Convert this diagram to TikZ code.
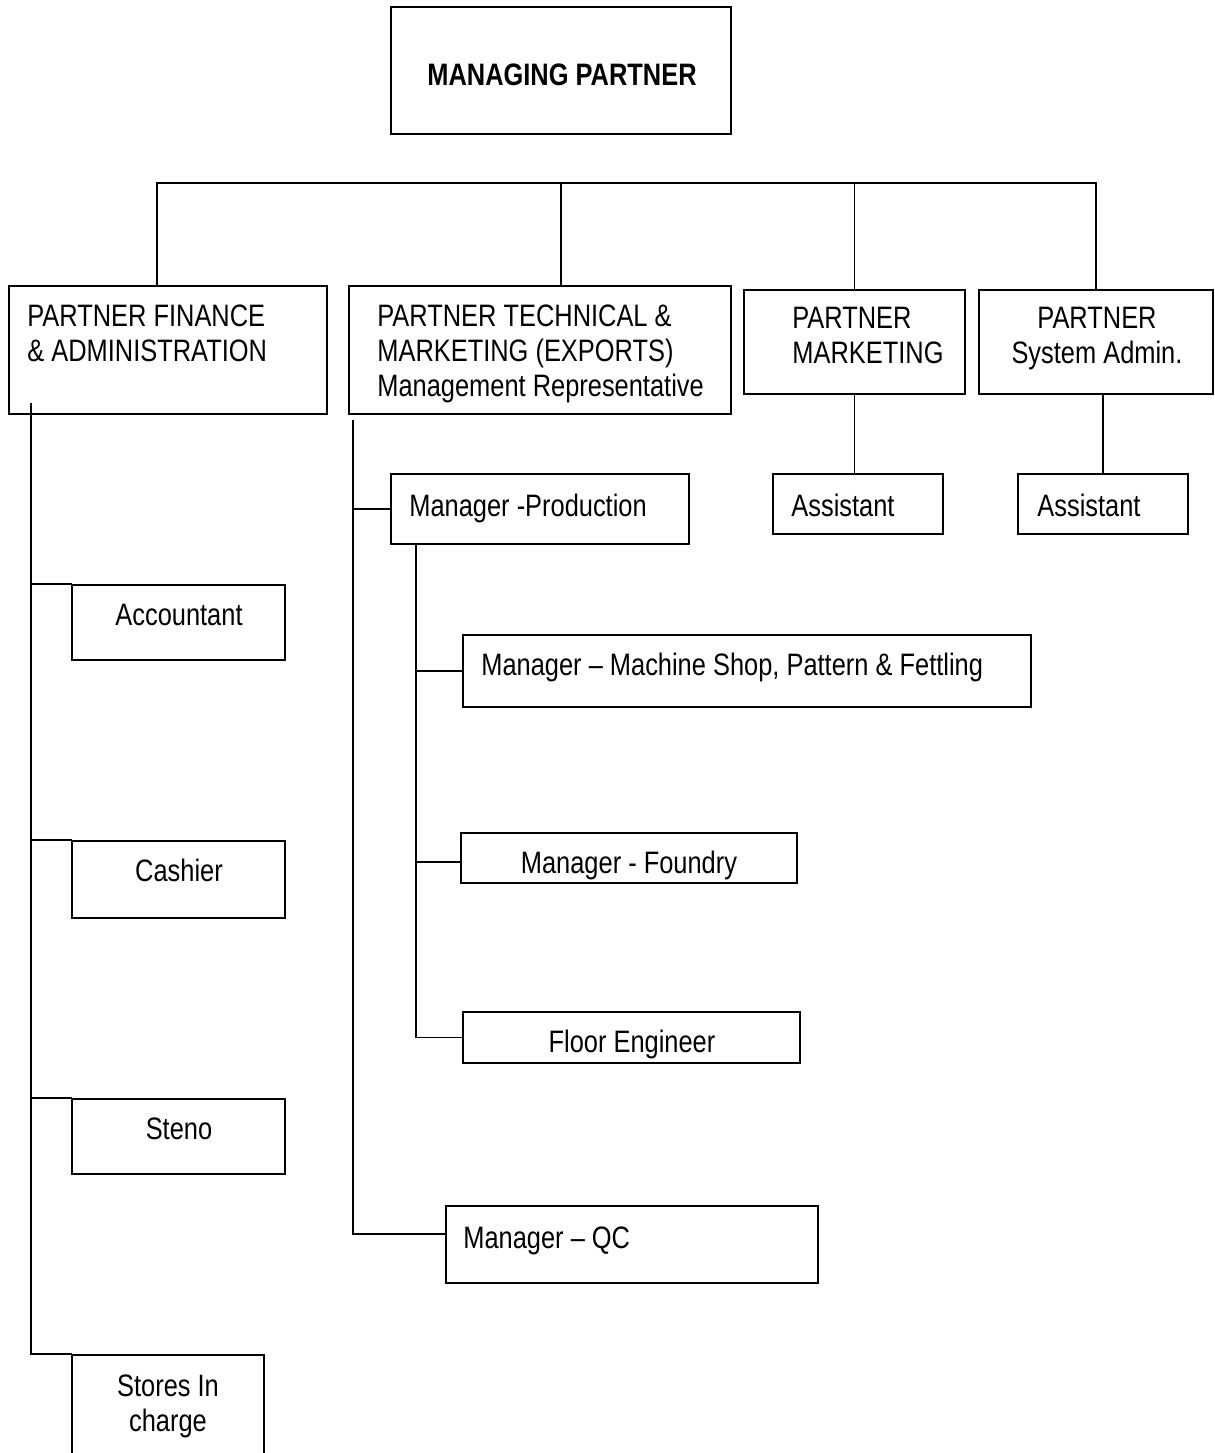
\documentclass[tikz,border=0pt]{standalone}
\usepackage{fontspec}
\setmainfont{Liberation Sans}[FakeStretch=0.82]
\usepackage{tikz}
\usetikzlibrary{fit}
\newcommand{\chartsize}{\fontsize{15.5pt}{17.5pt}\selectfont}

\begin{document}
\begin{tikzpicture}[line cap=rect,line join=miter, x=0.5pt,y=-0.5pt,
	box/.style={draw, inner sep=0pt, line width=0.9pt},
	txt/.style={inner sep=0pt, font=\chartsize},
	title/.style={inner sep=0pt, font=\chartsize\bfseries},
	conn/.style={line width=0.9pt}]
						\useasboundingbox (0,0) rectangle (1215,1453);
						\clip (0,0) rectangle (1215,1453);
						% boxes
						\node[box, fit={(391,7) (731,134)}] (mp) {};
						\node[box, fit={(9,286) (327,414)}] (fin) {};
						\node[box, fit={(349,286) (731,414)}] (tech) {};
						\node[box, fit={(744,290) (965,394)}] (mkt) {};
						\node[box, fit={(979,290) (1213,394)}] (sys) {};
						\node[box, fit={(773,474) (943,534)}] (ast1) {};
						\node[box, fit={(1018,474) (1188,534)}] (ast2) {};
						\node[box, fit={(391,474) (689,544)}] (prod) {};
						\node[box, fit={(463,635) (1031,707)}] (mach) {};
						\node[box, fit={(461,833) (797,883)}] (found) {};
						\node[box, fit={(463,1012) (800,1063)}] (floor) {};
						\node[box, fit={(446,1206) (818,1283)}] (qc) {};
						\node[box, fit={(72,585) (285,660)}] (acc) {};
						\node[box, fit={(72,841) (285,918)}] (cash) {};
						\node[box, fit={(72,1099) (285,1174)}] (steno) {};
						\node[box, fit={(72,1355) (264,1480)}] (stores) {};
						% texts
						\node[title, anchor=base] (mp-t) at (562,85) {MANAGING PARTNER};
						\node[txt, anchor=north west, align=left] (fin-t) at (27,304.5) {PARTNER FINANCE\\\& ADMINISTRATION};
						\node[txt, anchor=north west, align=left] (tech-t) at (377,304.5) {PARTNER TECHNICAL \&\\MARKETING (EXPORTS)\\Management Representative};
						\node[txt, anchor=north west, align=left] (mkt-t) at (792,306.5) {PARTNER\\MARKETING};
						\node[txt, anchor=north, align=center] (sys-t) at (1097,306.5) {PARTNER\\System Admin.};
						\node[txt, anchor=base west] (ast1-t) at (791,516.5) {Assistant};
						\node[txt, anchor=base west] (ast2-t) at (1037,516.5) {Assistant};
						\node[txt, anchor=base west] (prod-t) at (409,516.5) {Manager -Production};
						\node[txt, anchor=base west] (mach-t) at (481,675.5) {Manager – Machine Shop, Pattern \& Fettling};
						\node[txt, anchor=base] (found-t) at (629,873) {Manager - Foundry};
						\node[txt, anchor=base] (floor-t) at (632,1052) {Floor Engineer};
						\node[txt, anchor=base west] (qc-t) at (463,1248) {Manager – QC};
						\node[txt, anchor=base] (acc-t) at (179,625.5) {Accountant};
						\node[txt, anchor=base] (cash-t) at (179,881.5) {Cashier};
						\node[txt, anchor=base] (steno-t) at (179,1139.5) {Steno};
						\node[txt, anchor=north, align=center] (stores-t) at (168,1374.5) {Stores In\\charge};
						% top level
						\coordinate (bus) at (157,183);
						\coordinate (bus-end) at (1096,183);
						\coordinate (tech-drop) at (561,183);
						\draw[conn] (bus |- fin.north) -- (bus) -- (bus-end);
						\draw[conn] (tech-drop) -- (tech-drop |- tech.north);
						\draw[conn] (mkt.north) -- (mkt.north |- bus);
						\draw[conn] (sys.north) -- (sys.north |- bus);
						\draw[conn] (mkt.south) -- (mkt.south |- ast1.north);
						\draw[conn] (ast2.north) -- (ast2.north |- sys.south);
						% finance
						\coordinate (fin-spine) at (31,404);
						\draw[conn] (fin-spine) |- (stores.north west);
						\foreach \n in {acc,cash,steno}
						\draw[conn] (\n.north west) -- (\n.north west -| fin-spine);
						% technical
						\coordinate (tech-spine) at (353,421);
						\draw[conn] (tech-spine) |- ([yshift=5.25pt]qc.west);
						\draw[conn] (prod.west) -- (prod.west -| tech-spine);
						\coordinate (prod-spine) at ([xshift=13pt]prod.south west);
						\draw[conn] (prod-spine) |- (floor.west);
						\draw[conn] (mach.west) -- (mach.west -| prod-spine);
						\draw[conn] ([yshift=-2pt]found.west) -- ([yshift=-2pt]found.west -| prod-spine);
					\end{tikzpicture}
\end{document}
